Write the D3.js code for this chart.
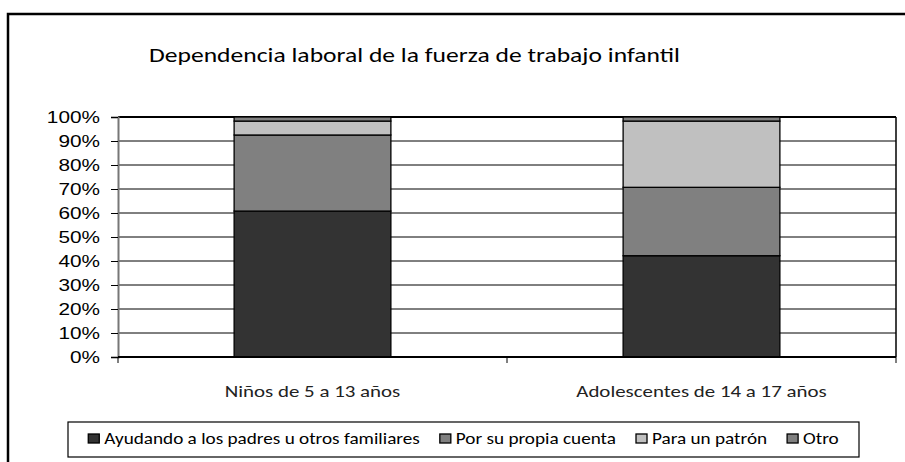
<!DOCTYPE html>
<html lang="es">
<head>
    <meta charset="UTF-8">
    <title>Dependencia laboral</title>
    <script src="https://d3js.org/d3.v7.min.js"></script>
    <style>
        body{
            margin: 0;
            background: white;
        }
        svg{
            display: block;
        }
        .arial{
            font-family: "Liberation Sans", Arial, sans-serif;
        }
        .cal{
            font-family: Carlito, Lato, sans-serif;
        }
    </style>
</head>
<body>
<svg></svg>
<script>
    // chart data
    const categories = ["Niños de 5 a 13 años", "Adolescentes de 14 a 17 años"];
    const seriesNames = ["Ayudando a los padres u otros familiares", "Por su propia cuenta", "Para un patrón", "Otro"];
    const ayudando = [60.8, 42.2];
    const propia = [31.7, 28.5];
    const patron = [5.8, 27.6];
    const otro = [1.7, 1.7];
    const colors = ["#333333", "#808080", "#c0c0c0", "#808080"];
    const yTicks = [0, 10, 20, 30, 40, 50, 60, 70, 80, 90, 100];

    const width = 905;
    const height = 462;
    const margin = {top: 117, right: 9, bottom: 105, left: 118};
    // the original picture is stretched sideways, so text is widened too
    const stretch = 1.26;

    const svg = d3.select("svg")
        .attr("width", width)
        .attr("height", height);

    // places a text at (x,y), widened by sx
    function wideText(parent, x, y, str, cls, size, sx, anchor) {
        const g = parent.append("g").attr("transform", `translate(${x},${y})`);
        const t = g.append("text")
            .attr("class", cls)
            .attr("transform", `scale(${sx},1)`)
            .attr("text-anchor", anchor || "start")
            .style("font-size", size + "px")
            .text(str);
        return t;
    }

    // outer frame (right and bottom are cut off in the original)
    svg.append("rect")
        .attr("x", 8).attr("y", 14)
        .attr("width", width + 10).attr("height", height + 10)
        .attr("fill", "none").attr("stroke", "#000").attr("stroke-width", 2.5);

    wideText(svg, 149, 62, "Dependencia laboral de la fuerza de trabajo infantil", "cal", 20, 1.28);

    // table built from the series arrays
    const table = categories.map((c, i) => ({
        cat: c,
        [seriesNames[0]]: ayudando[i],
        [seriesNames[1]]: propia[i],
        [seriesNames[2]]: patron[i],
        [seriesNames[3]]: otro[i]
    }));
    const stacked = d3.stack().keys(seriesNames)(table);

    const x = d3.scaleBand()
        .domain(categories)
        .range([margin.left, width - margin.right])
        .padding(0);
    const y = d3.scaleLinear()
        .domain([0, 100])
        .range([height - margin.bottom, margin.top]);

    const plot = svg.append("g");

    // gridlines
    plot.selectAll(".grid")
        .data(yTicks)
        .enter().append("line")
        .attr("x1", x.range()[0]).attr("x2", x.range()[1])
        .attr("y1", d => y(d)).attr("y2", d => y(d))
        .attr("stroke", "#000").attr("stroke-width", d => d === 100 ? 2 : 1);

    // right border of the plot area
    plot.append("line")
        .attr("x1", x.range()[1]).attr("x2", x.range()[1])
        .attr("y1", y(100)).attr("y2", y(0))
        .attr("stroke", "#000").attr("stroke-width", 1.5);

    // bars
    const barW = x.bandwidth() * 0.403;
    stacked.forEach((layer, k) => {
        plot.selectAll(".s" + k)
            .data(layer)
            .enter().append("rect")
            .attr("x", d => x(d.data.cat) + (x.bandwidth() - barW) / 2)
            .attr("y", d => y(d[1]))
            .attr("width", barW)
            .attr("height", d => y(d[0]) - y(d[1]))
            .attr("fill", colors[k])
            .attr("stroke", "#000")
            .attr("stroke-width", 1.3);
    });

    // y axis (labels drawn separately so they can be widened)
    svg.append("g")
        .attr("transform", `translate(${margin.left},0)`)
        .call(d3.axisLeft(y).tickValues(yTicks).tickSize(7).tickFormat(""))
        .call(g => g.select(".domain").attr("stroke", "#777").attr("stroke-width", 2))
        .call(g => g.selectAll(".tick line").attr("stroke", "#000"));
    yTicks.forEach(v => {
        wideText(svg, margin.left - 18, y(v) + 6, v + "%", "arial", 16.5, stretch, "end");
    });

    // x axis
    svg.append("line")
        .attr("x1", x.range()[0]).attr("x2", x.range()[1])
        .attr("y1", y(0)).attr("y2", y(0))
        .attr("stroke", "#000").attr("stroke-width", 2);
    const bounds = [x.range()[0], x(categories[1]), x.range()[1]];
    svg.selectAll(".xtick")
        .data(bounds)
        .enter().append("line")
        .attr("x1", d => d).attr("x2", d => d)
        .attr("y1", y(0)).attr("y2", y(0) + 6)
        .attr("stroke", "#000");
    categories.forEach(c => {
        wideText(svg, x(c) + x.bandwidth() / 2, y(0) + 40, c, "cal", 17, 1.23, "middle")
            .style("fill", "#222");
    });

    // legend
    const legBox = {x: 68, y: 422, w: 791, h: 35};
    svg.append("rect")
        .attr("x", legBox.x).attr("y", legBox.y)
        .attr("width", legBox.w).attr("height", legBox.h)
        .attr("fill", "white").attr("stroke", "#000").attr("stroke-width", 1.2);

    const legSx = 1.2;
    const leg = svg.append("g");
    let cx = 0;
    const gap = 20;
    seriesNames.forEach((name, i) => {
        const item = leg.append("g").attr("transform", `translate(${cx},0)`);
        item.append("rect")
            .attr("width", 11).attr("height", 9)
            .attr("y", -10)
            .attr("fill", colors[i])
            .attr("stroke", "#000").attr("stroke-width", 1.3);
        const t = wideText(item, 16, 0, name, "cal", 16, legSx);
        cx += 16 + t.node().getComputedTextLength() * legSx + gap;
    });
    const total = cx - gap;
    leg.attr("transform", `translate(${legBox.x + (legBox.w - total) / 2},${legBox.y + 22})`);
</script>
</body>
</html>
